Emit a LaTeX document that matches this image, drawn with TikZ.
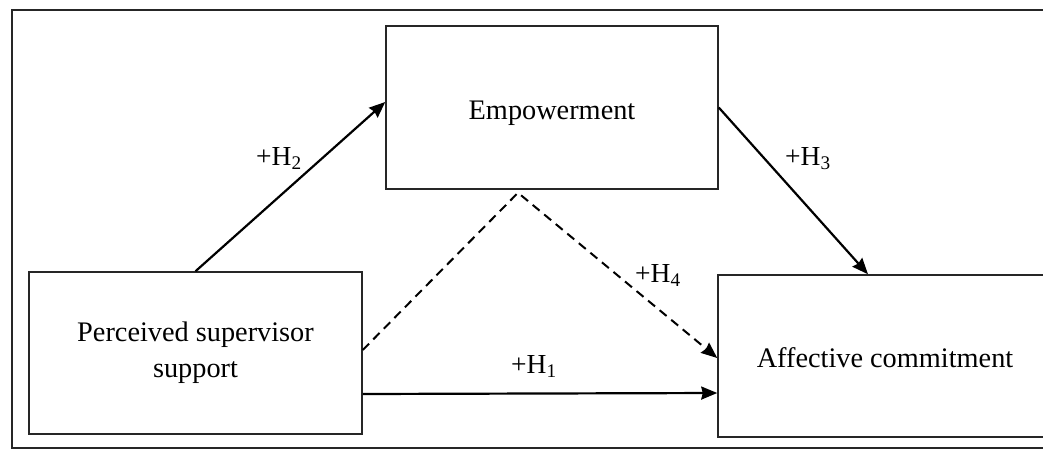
\documentclass[tikz,border=0pt]{standalone}
\usepackage{fontspec}
\setmainfont{Liberation Serif}
\usetikzlibrary{arrows.meta,calc}
\begin{document}
\begin{tikzpicture}[x=1pt,y=-1pt,
  boxnode/.style={draw=black!85,line width=1.5pt,rectangle,inner sep=0pt},
  txt/.style={font=\fontsize{28.3}{36}\selectfont,inner sep=0pt,text=black},
  lbl/.style={font=\fontsize{27.5}{32}\selectfont,inner sep=0pt,anchor=base west,text=black},
  link/.style={line width=2.2pt,draw=black},
  tip/.style={-{Stealth[length=16pt,width=13pt,inset=1.5pt]}},
  dashlink/.style={link,line width=2pt,dash pattern=on 9pt off 6pt}]
\useasboundingbox (0,0) rectangle (1043,450);
\fill[white] (0,0) rectangle (1043,450);
\clip (0,0) rectangle (1043,450);
% outer frame (right side cut off)
\draw[black!85,line width=1.8pt] (1100,10) -- (12,10) -- (12,448) -- (1100,448);
% boxes
\node[boxnode,minimum width=332pt,minimum height=163pt] (emp) at (552,107.5) {};
\node[boxnode,minimum width=333pt,minimum height=162pt,txt,align=center] (pss) at (195.5,353)
  {Perceived supervisor\\support};
\node[boxnode,minimum width=382pt,minimum height=162pt] (ac) at (909,356) {};
% texts
\node[txt,anchor=base] (empt) at (552,119) {Empowerment};
\node[txt,anchor=base] (act) at (885,367) {Affective commitment};
% connectors
\draw[link,tip] (pss.north) -- ([yshift=5.5pt]emp.west);
\draw[link,tip] (emp.east) -- ([xshift=-41pt]ac.north);
\draw[link,tip] ([yshift=-41pt]pss.east) -- ([yshift=-37pt]ac.west);
\coordinate (apex) at ([xshift=-34pt,yshift=-3pt]emp.south);
\draw[dashlink,tip] ([yshift=3pt]pss.east) -- (apex) -- ([yshift=-2pt]ac.west);
% labels
\node[lbl] (h2) at (256,165) {+H\textsubscript{2}};
\node[lbl] (h3) at (785,165) {+H\textsubscript{3}};
\node[lbl] (h4) at (635,282) {+H\textsubscript{4}};
\node[lbl] (h1) at (511,373) {+H\textsubscript{1}};
\end{tikzpicture}
\end{document}
